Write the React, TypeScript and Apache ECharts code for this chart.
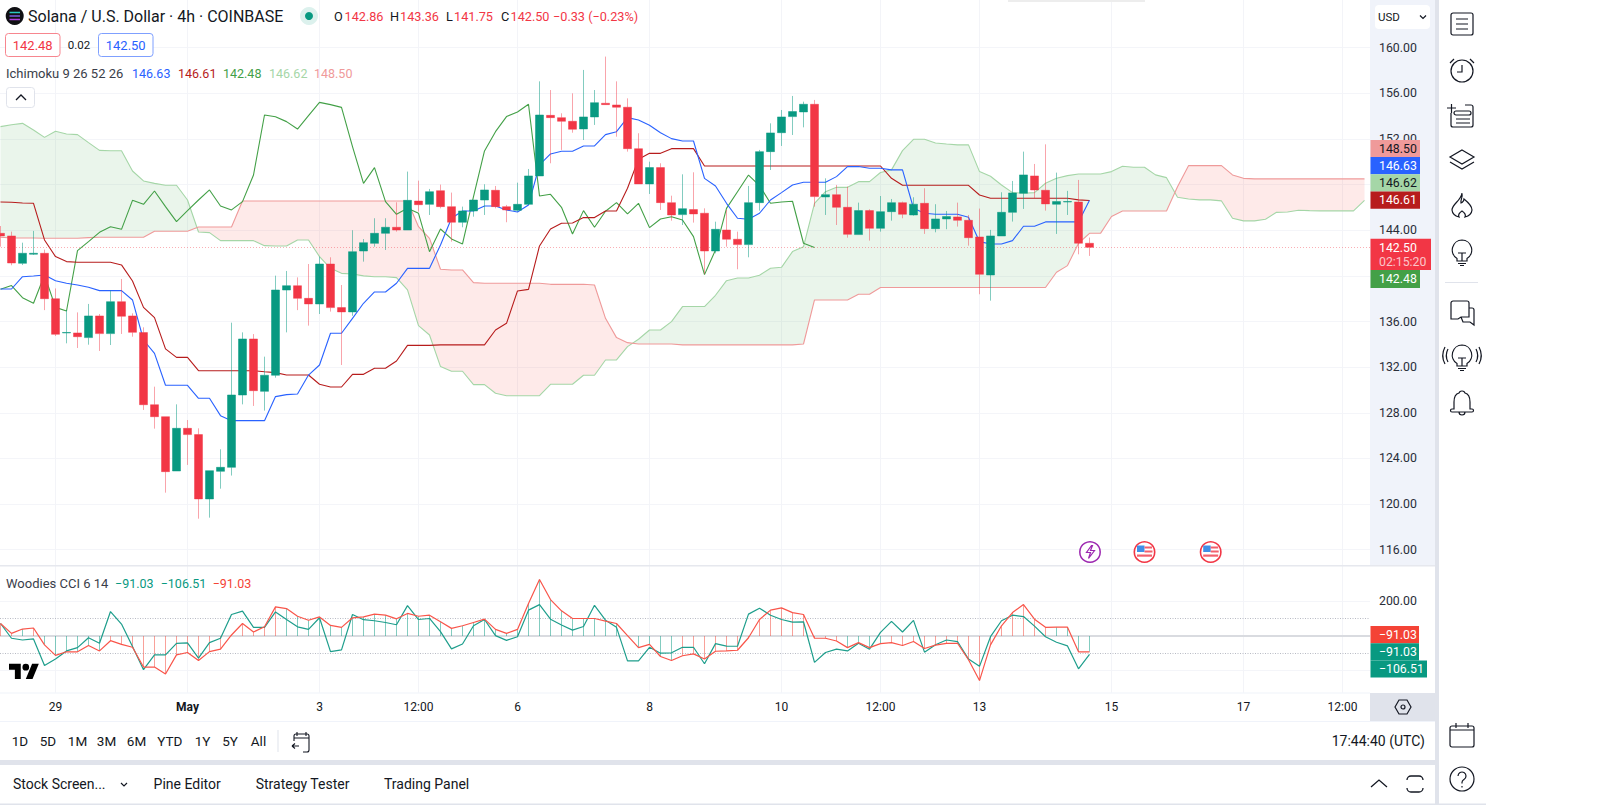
import React, { useEffect, useRef } from "react";
import * as echarts from "echarts";

// ---------- data ----------
const tickIndexes = [5, 17, 29, 38, 47, 59, 71, 80, 89, 101, 113, 122];
const tickLabels = ["29", "May", "3", "12:00", "6", "8", "10", "12:00", "13", "15", "17", "12:00"];
const priceGrid = [160, 156, 152, 148, 144, 140, 136, 132, 128, 124, 120, 116];
const priceLabels = [160, 156, 152, 144, 136, 132, 128, 124, 120, 116];

// open, close, low, high
const candles = [
  [143.73, 143.5, 142.56, 144.37], [143.5, 141.13, 140.93, 143.88], [141.1, 141.98, 140.95, 142.91], [141.9, 141.98, 141.83, 143.94],
  [141.98, 138.0, 137.0, 142.3], [138.0, 134.88, 134.73, 138.9], [135.0, 135.04, 134.09, 137.0], [135.0, 134.67, 133.68, 136.8],
  [134.59, 136.49, 133.97, 137.54], [136.49, 134.94, 133.42, 136.66], [134.94, 137.74, 133.94, 138.71], [137.74, 136.46, 134.91, 139.73],
  [136.49, 135.05, 134.67, 136.72], [135.03, 128.71, 128.25, 135.49], [128.71, 127.66, 126.61, 130.29], [127.66, 122.84, 121.0, 127.66],
  [122.9, 126.64, 122.9, 128.74], [126.64, 126.09, 123.43, 127.37], [126.09, 120.45, 118.72, 126.64], [120.45, 122.93, 118.81, 122.93],
  [122.87, 123.22, 121.35, 124.8], [123.22, 129.56, 122.5, 135.9], [129.56, 134.47, 128.74, 135.05], [134.47, 129.94, 128.6, 134.9],
  [129.88, 131.29, 128.19, 132.92], [131.29, 138.76, 131.08, 140.02], [138.76, 139.14, 135.05, 140.43], [139.14, 138.03, 137.0, 139.87],
  [138.03, 137.54, 135.64, 141.04], [137.54, 141.04, 136.66, 141.69], [141.04, 137.22, 136.87, 141.63], [137.22, 136.84, 132.19, 139.2],
  [136.84, 142.12, 136.5, 144.0], [142.18, 142.91, 141.25, 143.23], [142.85, 143.73, 142.56, 145.05], [143.73, 144.26, 142.27, 145.05],
  [144.26, 144.02, 143.88, 146.45], [144.02, 146.62, 144.02, 149.14], [146.56, 146.24, 145.63, 148.35], [146.27, 147.38, 145.34, 147.62],
  [147.47, 146.07, 145.92, 148.0], [146.07, 144.7, 143.0, 147.3], [144.7, 145.69, 144.26, 146.07], [145.69, 146.65, 145.19, 146.65],
  [146.65, 147.53, 145.34, 148.03], [147.5, 146.07, 145.92, 147.88], [146.07, 145.78, 144.7, 146.22], [145.75, 146.27, 145.63, 148.17],
  [146.27, 148.76, 146.27, 149.37], [148.76, 154.1, 148.76, 157.05], [154.07, 153.87, 149.87, 156.29], [153.87, 153.55, 151.04, 154.25],
  [153.55, 152.85, 152.55, 156.0], [152.88, 153.93, 151.91, 158.05], [153.93, 155.18, 153.23, 156.29], [155.13, 155.01, 155.0, 159.22],
  [154.98, 154.78, 152.2, 157.05], [154.78, 151.15, 150.89, 155.56], [151.15, 148.06, 148.06, 152.5], [148.06, 149.49, 147.18, 150.01],
  [149.49, 146.42, 145.78, 149.87], [146.42, 145.34, 144.84, 147.03], [145.37, 145.89, 144.46, 148.9], [145.81, 145.43, 144.67, 149.08],
  [145.49, 142.18, 140.17, 145.92], [142.18, 144.08, 141.98, 144.75], [144.02, 143.21, 142.56, 145.78], [143.21, 142.74, 140.58, 143.88],
  [142.74, 146.42, 141.63, 147.88], [146.42, 150.89, 145.72, 151.04], [150.89, 152.53, 149.28, 153.37], [152.55, 153.93, 151.39, 154.54],
  [153.96, 154.4, 152.35, 155.77], [154.37, 155.04, 153.02, 155.27], [155.04, 146.95, 146.07, 155.42], [146.92, 147.12, 145.34, 148.55],
  [147.12, 146.01, 144.46, 147.97], [146.01, 143.64, 143.35, 147.82], [143.62, 145.72, 143.62, 146.42], [145.72, 144.17, 143.09, 145.84],
  [144.17, 145.63, 143.88, 147.0], [145.63, 146.42, 144.84, 146.74], [146.42, 145.4, 145.05, 146.51], [145.34, 146.28, 145.28, 146.89],
  [146.36, 144.14, 143.68, 147.68], [144.14, 144.99, 143.82, 146.28], [144.99, 145.2, 144.09, 145.69], [145.17, 144.87, 144.32, 146.42],
  [144.87, 143.35, 142.65, 145.34], [143.41, 140.14, 138.39, 145.9], [140.08, 143.5, 137.83, 144.03], [143.5, 145.57, 143.5, 147.33],
  [145.57, 147.27, 144.76, 148.32], [147.24, 148.85, 145.87, 150.89], [148.76, 147.53, 146.8, 149.81], [147.5, 146.31, 145.72, 151.53],
  [146.28, 146.51, 143.68, 149.05], [146.48, 146.51, 145.34, 147.45], [146.48, 142.86, 141.89, 148.41], [142.86, 142.5, 141.75, 143.36],
];

const conversion = [
  138.85, 138.85, 139.93, 139.99, 140.08, 139.58, 139.35, 139.2, 139.0, 138.71,
  138.71, 138.71, 137.89, 134.38, 133.21, 130.41, 130.41, 130.41, 129.27, 129.27,
  127.75, 127.31, 127.31, 127.31, 127.31, 129.42, 129.59, 129.65, 131.31, 132.19,
  134.97, 134.97, 136.28, 137.6, 138.59, 138.59, 139.35, 140.66, 140.66, 140.66,
  142.71, 145.05, 145.69, 145.69, 146.13, 146.13, 145.78, 145.6, 146.22, 149.72,
  150.69, 150.92, 150.92, 151.39, 151.39, 152.38, 152.64, 153.87, 153.67, 153.2,
  152.55, 152.03, 151.82, 151.82, 148.55, 147.88, 146.36, 145.05, 144.96, 145.49,
  146.65, 147.3, 147.97, 148.2, 148.2, 148.2, 148.7, 149.58, 149.58, 149.43,
  149.43, 149.29, 149.29, 145.93, 145.49, 145.4, 145.4, 145.4, 145.14, 143.0,
  142.8, 142.8, 143.09, 144.35, 144.35, 144.73, 144.73, 144.73, 144.73, 146.63,
];

const base = [
  146.48, 146.45, 146.39, 146.36, 143.15, 141.69, 141.25, 141.19, 141.19, 141.19,
  141.19, 140.96, 139.55, 137.24, 136.34, 133.6, 132.86, 132.86, 131.69, 131.69,
  131.69, 131.69, 131.69, 131.69, 131.6, 131.52, 131.31, 131.31, 131.31, 130.5,
  130.26, 130.26, 131.37, 131.37, 131.9, 131.9, 132.54, 133.91, 133.91, 133.91,
  133.95, 133.95, 133.95, 133.95, 133.95, 135.26, 135.84, 138.68, 138.82, 142.62,
  144.11, 144.61, 144.64, 145.11, 145.11, 145.69, 145.69, 147.68, 150.22, 150.74,
  150.74, 151.15, 151.15, 151.15, 149.63, 149.63, 149.63, 149.63, 149.63, 149.63,
  149.63, 149.63, 149.63, 149.63, 149.63, 149.63, 149.63, 149.63, 149.63, 149.63,
  149.63, 148.55, 147.94, 147.94, 147.94, 147.94, 147.94, 147.94, 147.94, 147.09,
  146.8, 146.8, 146.8, 146.8, 146.8, 146.8, 146.8, 146.8, 146.66, 146.61,
];

const lagging = [
  138.82, 139.15, 138.09, 137.6, 140.08, 137.24, 136.92, 142.21, 143.0, 143.82,
  144.31, 144.08, 146.62, 146.27, 147.44, 146.07, 144.75, 145.72, 146.65, 147.53,
  146.13, 145.78, 146.51, 148.84, 154.1, 153.95, 153.52, 152.87, 154.04, 155.21,
  155.01, 154.77, 151.33, 148.11, 149.49, 146.51, 145.4, 145.92, 145.48, 142.12,
  144.11, 143.24, 142.8, 146.95, 150.95, 152.64, 153.96, 154.37, 155.04, 147.0,
  147.15, 146.01, 143.67, 145.72, 144.26, 145.66, 146.42, 145.43, 146.36, 144.23,
  144.99, 145.19, 144.9, 143.44, 140.11, 142.27, 145.92, 147.38, 148.84, 147.91,
  146.36, 146.48, 146.54, 142.86, 142.48,
];

const leadA = [
  153.08, 153.25, 153.37, 152.79, 152.14, 152.67, 152.44, 152.38, 151.68, 151.0,
  150.97, 150.97, 149.19, 148.32, 148.11, 147.94, 147.94, 146.65, 143.85, 143.79,
  143.09, 143.09, 143.09, 143.09, 142.65, 142.62, 142.62, 143.15, 143.15, 141.69,
  140.66, 140.22, 140.17, 140.0, 139.93, 139.93, 139.85, 138.77, 135.64, 134.82,
  132.05, 131.64, 131.64, 130.47, 130.47, 129.71, 129.5, 129.5, 129.5, 129.5,
  130.5, 130.5, 130.5, 131.29, 131.29, 132.63, 132.63, 133.8, 134.45, 135.26,
  135.26, 135.99, 137.31, 137.31, 137.31, 138.3, 139.58, 139.82, 139.82, 140.05,
  140.67, 140.75, 142.13, 142.56, 146.36, 147.38, 147.76, 147.76, 148.26, 148.26,
  149.06, 149.29, 150.98, 151.97, 151.97, 151.65, 151.56, 151.48, 151.48, 149.14,
  148.73, 147.97, 147.3, 147.24, 147.3, 148.12, 148.55, 148.79, 148.93, 148.93,
  148.93, 149.14, 149.61, 149.52, 149.52, 148.85, 148.61, 146.89, 146.74, 146.66,
  146.66, 146.57, 145.05, 144.82, 144.82, 144.96, 145.57, 145.6, 145.75, 145.72,
  145.7, 145.7, 145.7, 145.7, 146.62,
];

const leadB = [
  143.38, 143.32, 143.32, 143.32, 143.3, 143.3, 143.3, 143.3, 143.35, 143.38,
  143.38, 143.38, 143.38, 143.38, 143.91, 143.91, 143.91, 143.91, 144.29, 144.29,
  144.29, 144.29, 146.56, 146.56, 146.56, 146.56, 146.56, 146.56, 146.56, 146.56,
  146.56, 146.56, 146.56, 146.56, 146.56, 146.56, 146.56, 146.56, 144.31, 143.29,
  140.58, 140.52, 140.52, 139.41, 139.35, 139.35, 139.35, 139.35, 139.35, 139.35,
  139.26, 139.26, 139.26, 139.26, 139.2, 136.28, 134.59, 134.15, 134.03, 134.03,
  134.03, 134.03, 133.95, 133.95, 133.95, 133.95, 133.95, 133.95, 133.95, 133.95,
  133.95, 133.95, 133.95, 134.03, 137.89, 137.89, 137.89, 137.89, 138.39, 138.39,
  138.98, 138.98, 138.98, 138.98, 138.98, 138.98, 138.98, 138.98, 138.98, 138.98,
  138.98, 138.98, 138.98, 138.98, 138.98, 138.98, 140.32, 140.9, 142.86, 143.73,
  143.73, 145.2, 145.69, 145.69, 145.69, 145.69, 145.69, 147.82, 149.66, 149.66,
  149.66, 149.66, 148.85, 148.55, 148.5, 148.5, 148.5, 148.5, 148.5, 148.5,
  148.5, 148.5, 148.5, 148.5, 148.5,
];

const cciRed = [
  72, 15, 40, 46, -51, -112, -91, -91, -55, -86, -27, -48, -65, -179, -179, -219, -109, -95, -141, -90,
  -76, 6, 72, 23, 53, 168, 158, 114, 91, 110, 61, 50, 105, 110, 126, 120, 99, 130, 114, 120,
  82, 44, 59, 78, 97, 38, 15, 38, 187, 326, 210, 145, 101, 101, 101, 86, 72, 2, -67, -48,
  -118, -141, -114, -103, -133, -88, -86, -82, -10, 95, 149, 162, 135, 124, -13, -13, -29, -67, -38, -67,
  -44, -38, -55, -32, -72, -53, -42, -42, -137, -257, -51, 59, 135, 181, 97, 50, 51, 51, -91, -91.03,
];

const cciTeal = [
  72, -13, -23, -17, -170, -133, -86, -67, -10, -42, 141, 69, -61, -194, -109, -109, -42, -40, -128, -38,
  -13, 124, 143, 50, 50, 139, 95, 53, 38, 105, -90, -80, 124, 94, 88, 78, 65, 175, 95, 101,
  25, -74, -46, 59, 95, 2, -25, -4, 149, 181, 97, 63, 34, 55, 177, 91, 50, -143, -143, -65,
  -99, -97, -65, -65, -160, -44, -58, -59, 126, 160, 120, 95, 80, 82, -152, -95, -76, -86, -42, -76,
  21, 84, 23, 90, -93, -50, -23, -32, -133, -175, -4, 88, 120, 112, 57, -4, -36, -57, -189, -106.51,
];

const histSides = "rrgrgggggg" + "rrrrrrrrrr" + "rrrrrrgggg" + "gggggggggg" + "gggggggggg" + "gggggggggg" +
  "ggrrrrrrrr" + "rrrrrrrggg" + "grrrrrrrrr" + "rrrrrrgggg";

// ---------- icons ----------
const icons: Record<string, string> = {
  menu: "M3 1h18a2 2 0 0 1 2 2v18a2 2 0 0 1-2 2h-18a2 2 0 0 1-2-2v-18a2 2 0 0 1 2-2z M6 7h12 M6 12h12 M6 17h12",
  alarm: "M23 13a11 11 0 1 1-22 0a11 11 0 1 1 22 0z M12 7v7h-5 M0 5l4-4 M24 5l-4-4",
  listplus: "M1 9v12a2 2 0 0 0 2 2h18a2 2 0 0 0 2-2v-18a2 2 0 0 0-2-2h-6 M6 7h13a1.8 1.8 0 0 1 0 4h-13a1.8 1.8 0 0 1 0-4z M6 15h14 M6 19h14 M-3 4h9 M1.5 0v9",
  layers: "M12 0l12 7-12 7-12-7z M0 12l12 7 12-7",
  flame: "M12 0c1 5-2 7-1 10 2-1 3-2 3-4 5 4 8 8 8 11a10 8 0 0 1-7 7c1-2 0-4-3-6-3 2-4 4-3 6a10 8 0 0 1-7-7c0-6 9-9 10-17z",
  bulb: "M12 0a10 10 0 0 1 5 18.5v2.5h-10v-2.5a10 10 0 0 1 5-18.5z M8 13h8 M12 13v8 M8 23.5h8 M10 25.5h4",
  chat: "M3 1h14a2 2 0 0 1 2 2v14h-8l-3 2h-7v-16a2 2 0 0 1 2-2z M19 8h3a2 2 0 0 1 2 2v15l-4-3h-7l-2-5",
  broadcast: "M12 0a10 10 0 0 1 5 18.5v2.5h-10v-2.5a10 10 0 0 1 5-18.5z M8 13h8 M12 13v8 M8 23.5h8 M10 25.5h4 M-2 4a14 14 0 0 0 0 13 M-5 2a18 18 0 0 0 0 17 M26 4a14 14 0 0 1 0 13 M29 2a18 18 0 0 1 0 17",
  bell: "M12 0a3 3 0 0 1 3 2c4 1 5 5 5 9v7h2a1.5 1.5 0 0 1 0 3h-20a1.5 1.5 0 0 1 0-3h2v-7c0-4 1-8 5-9a3 3 0 0 1 3-2z M9 21a3 3 0 0 0 6 0",
  calendar: "M2 3h20a2 2 0 0 1 2 2v17a2 2 0 0 1-2 2h-20a2 2 0 0 1-2-2v-17a2 2 0 0 1 2-2z M0 7h24 M6 0v5 M18 0v5",
  help: "M24 12a12 12 0 1 1-24 0a12 12 0 1 1 24 0z M8 9a4 4 0 1 1 6 3.5c-1 .7-2 1-2 3v1 M12 19v1.5",
  hex: "M3 0h8l4 7-4 7h-8l-4-7z M9 7a2 2 0 1 1-4 0a2 2 0 1 1 4 0z",
  calgo: "M2 6h15v12a2 2 0 0 1-2 2h-4 M2 6v-2a2 2 0 0 1 2-2h11a2 2 0 0 1 2 2v2 M5 0v4 M14 0v4 M0 14h7 M0 14l3-2.5 M0 14l3 2.5 M0 13l0 0 M2 9v-3",
  expand: "M0 4a4 4 0 0 1 4-4h8a4 4 0 0 1 4 4 M0 12a4 4 0 0 0 4 4h8a4 4 0 0 0 4-4",
  up: "M0 7l8-7 8 7",
  down: "M0 0l3 3 3-3",
  chevup: "M0 5l5-5 5 5",
  bolt: "M7 0l-5 7h4l-2 6 6-8h-4l2-5z",
  tvlogo: "M14 22H7V11H0V4h14v18zM28 22h-8l7.5-18h8L28 22z M24 8a4 4 0 1 1-8 0a4 4 0 1 1 8 0z",
};
Object.keys(icons).forEach((k) => {
  echarts.graphic.registerShape(k, echarts.graphic.extendPath(icons[k], {}) as any);
});

// ---------- chrome helpers ----------
const FONT = "Roboto, 'Noto Sans', sans-serif";
const DARK = "#131722";
const RED = "#F23645";
const TEAL = "#089981";

function txt(text: string, x: number, y: number, fill: string = DARK, size = 12, align = "left", weight = "normal", z = 60) {
  return {
    type: "text", x, y, z, silent: true,
    style: {
      text, fill, font: `${weight} ${size}px ${FONT}`,
      textAlign: align, align, textVerticalAlign: "middle", verticalAlign: "middle",
    },
  };
}
function box(x: number, y: number, w: number, h: number, fill: string, z = 50, stroke?: string, r = 0) {
  return {
    type: "rect", x, y, z, silent: true,
    shape: { x: 0, y: 0, width: w, height: h, r },
    style: { fill, stroke: stroke ?? "none", lineWidth: stroke ? 1 : 0 },
  };
}
function icon(name: string, x: number, y: number, stroke = DARK, fill = "none", lineWidth = 1.2, s = 1) {
  return { type: name, x, y, scaleX: s, scaleY: s, z: 60, silent: true, style: { stroke, fill, lineWidth } };
}

function chrome() {
  const els: any[] = [];
  // panel backgrounds
  els.push(box(1370, 0, 65, 565, "#F0F3FA", -1));
  els.push(box(1435, 0, 4, 805, "#E0E3EB", -1));
  els.push(box(0, 565, 1435, 1.6, "#E6E8EE", 40));
  els.push(box(0, 692.5, 1370, 1, "#F0F3FA", 40));
  els.push(box(0, 721, 1435, 1, "#F0F3FA", 40));
  els.push(box(1370, 693, 65, 28, "#E0E3EB", 40));
  els.push(box(0, 760, 1435, 5, "#E0E3EB", 40));
  els.push(box(0, 803.5, 1486, 1.5, "#E0E3EB", 40));
  els.push(box(1008, 0, 137, 2, "#EDEDED", 40));

  // legend header
  els.push({ type: "circle", x: 14.7, y: 16, z: 60, shape: { cx: 0, cy: 0, r: 9 }, style: { fill: "#101014" } });
  els.push({ type: "line", z: 61, shape: { x1: 9.5, y1: 12.5, x2: 20, y2: 12.5 }, style: { stroke: "#29C8C0", lineWidth: 1.5 } });
  els.push({ type: "line", z: 61, shape: { x1: 9.5, y1: 16, x2: 20, y2: 16 }, style: { stroke: "#7A5CE0", lineWidth: 1.5 } });
  els.push({ type: "line", z: 61, shape: { x1: 9.5, y1: 19.5, x2: 20, y2: 19.5 }, style: { stroke: "#B040E0", lineWidth: 1.5 } });
  els.push(txt("Solana / U.S. Dollar · 4h · COINBASE", 28, 16, DARK, 16));
  els.push({ type: "circle", x: 309, y: 16, z: 60, shape: { cx: 0, cy: 0, r: 9 }, style: { fill: "rgba(8,153,129,0.14)" } });
  els.push({ type: "circle", x: 309, y: 16, z: 61, shape: { cx: 0, cy: 0, r: 4 }, style: { fill: TEAL } });
  [["O", 334], ["H", 390], ["L", 446], ["C", 501]].forEach(([t, x]) => els.push(txt(t as string, x as number, 16.5, DARK, 12.7)));
  [["142.86", 344.5], ["143.36", 400], ["141.75", 454], ["142.50", 510.5], ["−0.33 (−0.23%)", 553]].forEach(([t, x]) =>
    els.push(txt(t as string, x as number, 16.5, RED, 12.7)));
  els.push(box(5.5, 33.5, 54.5, 23, "#fff", 50, "#F7868F", 3));
  els.push(txt("142.48", 32.7, 45, RED, 13, "center"));
  els.push(txt("0.02", 79, 45, DARK, 11.5, "center"));
  els.push(box(98.5, 33.5, 54.5, 23, "#fff", 50, "#7FA0FF", 3));
  els.push(txt("142.50", 125.7, 45, "#2962FF", 13, "center"));
  els.push(txt("Ichimoku 9 26 52 26", 6, 73.5, "#3A3E4A", 13));
  [["146.63", 132, "#2962FF"], ["146.61", 178, "#B71C1C"], ["142.48", 223, "#43A047"], ["146.62", 269, "#A5D6A7"], ["148.50", 314, "#EF9A9A"]].forEach(
    ([t, x, c]) => els.push(txt(t as string, x as number, 73.5, c as string, 12.5)));
  els.push(box(6.5, 87.5, 28, 20, "#fff", 50, "#E0E3EB", 3));
  els.push(icon("chevup", 16, 95, DARK, "none", 1.3));

  // price badges
  const tags: [string, number, number, string, string][] = [
    ["148.50", 140, 17, "#EF9A9A", DARK],
    ["146.63", 157, 17.2, "#2962FF", "#fff"],
    ["146.62", 174.2, 17.2, "#A5D6A7", DARK],
    ["146.61", 191.4, 17.4, "#B71C1C", "#fff"],
    ["142.48", 270, 18, "#43A047", "#fff"],
  ];
  tags.forEach(([t, y, h, c, tc]) => {
    els.push(box(1370.5, y, 49.5, h, c, 50));
    els.push(txt(t, 1379, y + h / 2, tc, 12.3));
  });
  els.push(box(1370.5, 238.7, 60.5, 31.3, RED, 50));
  els.push(txt("142.50", 1379, 248, "#fff", 12.3));
  els.push(txt("02:15:20", 1379, 261.5, "rgba(255,255,255,0.72)", 12.3));

  // lower badges
  els.push(box(1370.5, 626, 48.5, 17.3, "#F44336", 50));
  els.push(txt("−91.03", 1379, 634.7, "#fff", 12.3));
  els.push(box(1370.5, 643.3, 48.5, 17.3, TEAL, 50));
  els.push(txt("−91.03", 1379, 652, "#fff", 12.3));
  els.push(box(1370.5, 660.5, 56.5, 17, TEAL, 50));
  els.push(txt("−106.51", 1379, 669, "#fff", 12.3));

  // USD selector
  els.push(box(1375, 5, 55, 24, "#fff", 50, undefined, 4));
  els.push(txt("USD", 1378, 16.5, DARK, 11.5));
  els.push(icon("down", 1420, 15.5, DARK, "none", 1.2));

  // CCI legend
  els.push(txt("Woodies CCI 6 14", 6, 583, "#3A3E4A", 13));
  els.push(txt("−91.03", 115, 583, TEAL, 12.5));
  els.push(txt("−106.51", 160.7, 583, TEAL, 12.5));
  els.push(txt("−91.03", 212.7, 583, "#F44336", 12.5));
  els.push(icon("tvlogo", 9, 660.5, "none", "#000", 0, 0.84));

  // events
  els.push({ type: "circle", x: 1090, y: 552, z: 60, shape: { cx: 0, cy: 0, r: 10.2 }, style: { fill: "#fff", stroke: "#9C27B0", lineWidth: 1.5 } });
  els.push(icon("bolt", 1084.5, 545.5, "#9C27B0", "none", 1.2));
  [1144.5, 1210.7].forEach((x) => {
    els.push({ type: "circle", x, y: 552, z: 60, shape: { cx: 0, cy: 0, r: 10.2 }, style: { fill: "#fff", stroke: RED, lineWidth: 1.6 } });
    els.push({ type: "rect", x: x - 7.5, y: 545.5, z: 61, shape: { x: 0, y: 0, width: 7.5, height: 6.5 }, style: { fill: "#3F8FE8" } });
    els.push({ type: "rect", x: x, y: 546.5, z: 61, shape: { x: 0, y: 0, width: 7.5, height: 2 }, style: { fill: "#F2606D" } });
    els.push({ type: "rect", x: x, y: 550.5, z: 61, shape: { x: 0, y: 0, width: 8, height: 2 }, style: { fill: "#F2606D" } });
    els.push({ type: "rect", x: x - 7.5, y: 554.5, z: 61, shape: { x: 0, y: 0, width: 15, height: 2.2 }, style: { fill: "#F2606D" } });
  });

  // bottom toolbar
  [["1D", 20], ["5D", 48], ["1M", 77.5], ["3M", 106.5], ["6M", 136.5], ["YTD", 169.8], ["1Y", 202.5], ["5Y", 230], ["All", 258.5]].forEach(([t, x]) =>
    els.push(txt(t as string, x as number, 741, DARK, 13.5, "center")));
  els.push(box(277.5, 730, 1, 22, "#E0E3EB", 50));
  els.push(icon("calgo", 292, 732, DARK, "none", 1.1));
  els.push(txt("17:44:40 (UTC)", 1425, 741, DARK, 14, "right"));
  els.push(icon("hex", 1396, 700, DARK, "none", 1.2));

  // bottom panel
  els.push(txt("Stock Screen...", 13, 784, DARK, 14));
  els.push(icon("down", 121, 783, DARK, "none", 1.2));
  els.push(txt("Pine Editor", 153.6, 784, DARK, 14));
  els.push(txt("Strategy Tester", 255.7, 784, DARK, 14));
  els.push(txt("Trading Panel", 384, 784, DARK, 14));
  els.push(icon("up", 1371, 780, DARK, "none", 1.3));
  els.push(icon("expand", 1407, 776, DARK, "none", 1.3));

  // right tool strip
  const cx = 1450;
  els.push(icon("menu", cx, 12));
  els.push(icon("alarm", cx, 58));
  els.push(icon("listplus", cx, 104));
  els.push(icon("layers", cx, 150));
  els.push(icon("flame", cx, 193));
  els.push(icon("bulb", cx, 240));
  els.push(box(1445, 282, 33, 1, "#E0E3EB", 50));
  els.push(icon("chat", cx, 300));
  els.push(icon("broadcast", cx, 345));
  els.push(icon("bell", cx, 391));
  els.push(icon("calendar", cx, 723));
  els.push(icon("help", cx, 767));
  return els;
}

// ---------- cloud ----------
function renderCloud(params: any, api: any) {
  if (params.dataIndex > 0) return null;
  const children: any[] = [];
  const pa = leadA.map((v, i) => api.coord([i, v]));
  const pb = leadB.map((v, i) => api.coord([i, v]));
  let upper: number[][] = [pa[0]];
  let lower: number[][] = [pb[0]];
  let sign = leadA[0] >= leadB[0];
  const flush = () => {
    children.push({
      type: "polygon",
      shape: { points: [...upper, ...lower.slice().reverse()] },
      style: { fill: sign ? "rgba(67,160,71,0.11)" : "rgba(244,67,54,0.11)" },
    });
  };
  for (let i = 1; i < leadA.length; i++) {
    const s = leadA[i] >= leadB[i];
    if (s !== sign) {
      const d0 = leadA[i - 1] - leadB[i - 1];
      const d1 = leadA[i] - leadB[i];
      const t = d0 / (d0 - d1);
      const cross = [pa[i - 1][0] + (pa[i][0] - pa[i - 1][0]) * t, pa[i - 1][1] + (pa[i][1] - pa[i - 1][1]) * t];
      upper.push(cross);
      flush();
      upper = [cross];
      lower = [cross];
      sign = s;
    }
    upper.push(pa[i]);
    lower.push(pb[i]);
  }
  flush();
  return { type: "group", children };
}

export default function App() {
  const ref = useRef<HTMLDivElement>(null);
  useEffect(() => {
    const chart = echarts.init(ref.current!, undefined, { renderer: "svg" });
    const categories = leadA.map((_, i) => {
      const k = tickIndexes.indexOf(i);
      return k >= 0 ? tickLabels[k] : "";
    });
    const vLines = (z: number) => ({
      silent: true, symbol: "none", z, animation: false,
      label: { show: false },
      lineStyle: { color: "#F3F4F8", width: 1, type: "solid" },
      data: tickIndexes.map((i) => ({ xAxis: i })),
    });
    chart.setOption({
      animation: false,
      backgroundColor: "#fff",
      graphic: { elements: chrome() },
      grid: [
        { left: -5, top: 0, width: 1375, height: 565, outerBoundsMode: "none" },
        { left: -5, top: 566, width: 1375, height: 126.7, outerBoundsMode: "none" },
      ],
      xAxis: [
        { type: "category", gridIndex: 0, data: categories, boundaryGap: true, axisLine: { show: false }, axisTick: { show: false }, axisLabel: { show: false }, splitLine: { show: false } },
        {
          type: "category", gridIndex: 1, data: categories, boundaryGap: true, axisLine: { show: false }, axisTick: { show: false }, splitLine: { show: false },
          axisLabel: {
            margin: 8, color: DARK, fontFamily: FONT, fontSize: 12,
            interval: (i: number) => tickIndexes.includes(i),
            formatter: (v: string) => (v === "May" ? "{b|May}" : v),
            rich: { b: { fontWeight: 700, fontFamily: FONT, fontSize: 12, color: DARK } },
          },
        },
      ],
      yAxis: [
        {
          type: "value", gridIndex: 0, position: "right", min: 114.66, max: 164.18, scale: true,
          axisLine: { show: false }, axisTick: { show: false, customValues: priceGrid },
          axisLabel: { customValues: priceLabels, margin: 9, color: "#2A2E39", fontFamily: FONT, fontSize: 12.3, formatter: (v: number) => v.toFixed(2) },
          splitLine: { show: true, lineStyle: { color: "#F4F5F9", width: 1 } },
        },
        {
          type: "value", gridIndex: 1, position: "right", min: -326.8, max: 403.5, scale: true,
          axisLine: { show: false }, axisTick: { show: false, customValues: [200, -200] },
          axisLabel: { customValues: [200], margin: 9, color: "#2A2E39", fontFamily: FONT, fontSize: 12.3, formatter: (v: number) => v.toFixed(2) },
          splitLine: { show: true, lineStyle: { color: "#F4F5F9", width: 1 } },
        },
      ],
      series: [
        {
          type: "custom", name: "Cloud", xAxisIndex: 0, yAxisIndex: 0, z: 1, silent: true, clip: true,
          data: [[0, leadA[0]]], encode: { x: 0, y: 1 }, renderItem: renderCloud,
        },
        {
          type: "line", name: "Leading Span A", xAxisIndex: 0, yAxisIndex: 0, data: leadA, z: 2, symbol: "none", silent: true,
          lineStyle: { color: "#A5D6A7", width: 1.1 }, markLine: vLines(0),
        },
        { type: "line", name: "Leading Span B", xAxisIndex: 0, yAxisIndex: 0, data: leadB, z: 2, symbol: "none", silent: true, lineStyle: { color: "#EF9A9A", width: 1.1 } },
        { type: "line", name: "Lagging Span", xAxisIndex: 0, yAxisIndex: 0, data: lagging, z: 3, symbol: "none", silent: true, lineStyle: { color: "#43A047", width: 1.1 } },
        { type: "line", name: "Base Line", xAxisIndex: 0, yAxisIndex: 0, data: base, z: 3, symbol: "none", silent: true, lineStyle: { color: "#B71C1C", width: 1.1 } },
        { type: "line", name: "Conversion Line", xAxisIndex: 0, yAxisIndex: 0, data: conversion, z: 3, symbol: "none", silent: true, lineStyle: { color: "#2962FF", width: 1.1 } },
        {
          type: "candlestick", name: "SOLUSD", xAxisIndex: 0, yAxisIndex: 0, data: candles, z: 5, barWidth: 8, silent: true,
          itemStyle: { color: TEAL, color0: RED, borderColor: "rgba(8,153,129,0.5)", borderColor0: "rgba(242,54,69,0.45)", borderWidth: 1 },
          markLine: {
            silent: true, symbol: "none", z: 4, animation: false, label: { show: false },
            lineStyle: { color: "rgba(242,54,69,0.4)", width: 1, type: [1, 2] },
            data: [{ yAxis: 142.5 }],
          },
        },
        {
          type: "bar", name: "Histogram", xAxisIndex: 1, yAxisIndex: 1, barWidth: 1, z: 2, silent: true,
          data: cciRed.map((v, i) => ({ value: v, itemStyle: { color: histSides[i] === "g" ? "rgba(8,153,129,0.5)" : "rgba(244,67,54,0.5)" } })),
          markLine: vLines(0),
        },
        {
          type: "line", name: "Turbo", xAxisIndex: 1, yAxisIndex: 1, data: cciTeal, z: 3, symbol: "none", silent: true, lineStyle: { color: "#1E9E8C", width: 1.2 },
          markLine: {
            silent: true, symbol: "none", z: 1, animation: false, label: { show: false },
            data: [
              { yAxis: 100, lineStyle: { color: "#B8BBC4", width: 1, type: [1, 1.5] } },
              { yAxis: -100, lineStyle: { color: "#B8BBC4", width: 1, type: [1, 1.5] } },
              { yAxis: 0, lineStyle: { color: "#D9DBE0", width: 2, type: "solid" } },
            ],
          },
        },
        { type: "line", name: "CCI", xAxisIndex: 1, yAxisIndex: 1, data: cciRed, z: 4, symbol: "none", silent: true, lineStyle: { color: "#F9554A", width: 1.2 } },
      ],
    });
    return () => chart.dispose();
  }, []);
  return <div ref={ref} style={{ position: "fixed", left: 0, top: 0, width: 1600, height: 805, overflow: "hidden" }} />;
}
